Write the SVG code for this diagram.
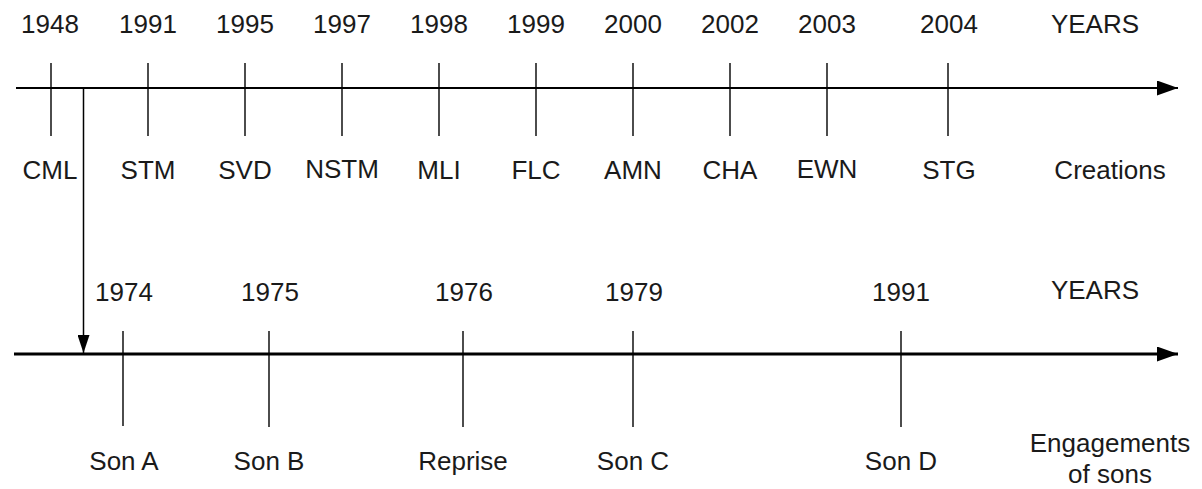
<svg xmlns="http://www.w3.org/2000/svg" width="1202" height="489" viewBox="0 0 1202 489">
  <defs>
    <marker id="axisHead" viewBox="0 0 21 15" refX="21" refY="7.5" markerWidth="21" markerHeight="15" markerUnits="userSpaceOnUse" orient="auto">
      <path d="M0,0 L21,7.5 L0,15 Z" fill="#000"/>
    </marker>
    <marker id="linkHead" viewBox="0 0 18 12" refX="18" refY="6" markerWidth="18" markerHeight="12" markerUnits="userSpaceOnUse" orient="auto">
      <path d="M0,0 L18,6 L0,12 Z" fill="#000"/>
    </marker>
    <style>
      .axis { stroke: #000; stroke-width: 2.2; fill: none; }
      .axis2 { stroke: #000; stroke-width: 2.8; fill: none; }
      .tick { stroke: #000; stroke-width: 1.4; fill: none; }
      .link { stroke: #000; stroke-width: 1.5; fill: none; }
      text { font-family: "Liberation Sans", Arial, sans-serif; font-size: 26px; fill: #1a1a1a; text-anchor: middle; }
    </style>
  </defs>

  <rect width="1202" height="489" fill="#fff"/>

  <!-- Creations timeline -->
  <g id="timeline-creations">
    <line class="axis" x1="16" y1="88" x2="1178" y2="88" marker-end="url(#axisHead)"/>
    <text x="1095" y="33">YEARS</text>
    <text x="1110" y="179">Creations</text>
  </g>
  <g id="c-1948"><line class="tick" x1="51" y1="63" x2="51" y2="136"/><text x="50" y="33">1948</text><text x="50" y="179">CML</text></g>
  <g id="c-1991"><line class="tick" x1="148" y1="63" x2="148" y2="136"/><text x="148" y="33">1991</text><text x="148" y="179">STM</text></g>
  <g id="c-1995"><line class="tick" x1="245" y1="63" x2="245" y2="136"/><text x="245" y="33">1995</text><text x="245" y="179">SVD</text></g>
  <g id="c-1997"><line class="tick" x1="342" y1="63" x2="342" y2="136"/><text x="342" y="33">1997</text><text x="342" y="178">NSTM</text></g>
  <g id="c-1998"><line class="tick" x1="439" y1="63" x2="439" y2="136"/><text x="439" y="33">1998</text><text x="439" y="179">MLI</text></g>
  <g id="c-1999"><line class="tick" x1="536" y1="63" x2="536" y2="136"/><text x="536" y="33">1999</text><text x="536" y="179">FLC</text></g>
  <g id="c-2000"><line class="tick" x1="633" y1="63" x2="633" y2="136"/><text x="633" y="33">2000</text><text x="633" y="179">AMN</text></g>
  <g id="c-2002"><line class="tick" x1="730" y1="63" x2="730" y2="136"/><text x="730" y="33">2002</text><text x="730" y="179">CHA</text></g>
  <g id="c-2003"><line class="tick" x1="827" y1="63" x2="827" y2="136"/><text x="827" y="33">2003</text><text x="827" y="178">EWN</text></g>
  <g id="c-2004"><line class="tick" x1="948" y1="63" x2="948" y2="136"/><text x="949" y="33">2004</text><text x="949" y="179">STG</text></g>

  <!-- Engagements timeline -->
  <g id="timeline-sons">
    <line class="axis2" x1="14" y1="354" x2="1178" y2="354" marker-end="url(#axisHead)"/>
    <text x="1095" y="299">YEARS</text>
    <text x="1110" y="452">Engagements</text>
    <text x="1110" y="483">of sons</text>
  </g>
  <g id="s-1974"><line class="tick" x1="123" y1="331" x2="123" y2="426"/><text x="124" y="301">1974</text><text x="124" y="470">Son A</text></g>
  <g id="s-1975"><line class="tick" x1="269" y1="331" x2="269" y2="427"/><text x="270" y="301">1975</text><text x="269" y="470">Son B</text></g>
  <g id="s-1976"><line class="tick" x1="463" y1="331" x2="463" y2="427"/><text x="464" y="301">1976</text><text x="463" y="470">Reprise</text></g>
  <g id="s-1979"><line class="tick" x1="633" y1="331" x2="633" y2="427"/><text x="634" y="301">1979</text><text x="633" y="470">Son C</text></g>
  <g id="s-1991"><line class="tick" x1="901" y1="331" x2="901" y2="427"/><text x="901" y="301">1991</text><text x="901" y="470">Son D</text></g>

  <!-- Connectors -->
  <g id="connectors">
    <line class="link" x1="83.5" y1="88" x2="83.5" y2="353" marker-end="url(#linkHead)"/>
  </g>
</svg>
